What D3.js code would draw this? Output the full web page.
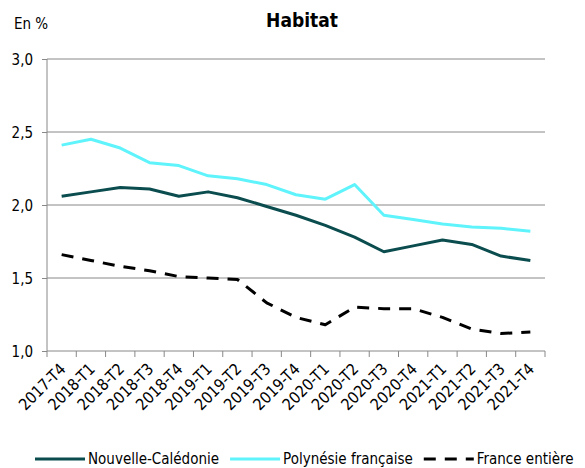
<!DOCTYPE html>
<html>
<head>
<meta charset="utf-8">
<script src="https://cdn.jsdelivr.net/npm/d3@7"></script>
<style>
  body { margin: 0; background: #fff; }
  svg text { font-family: "DejaVu Sans Condensed", "DejaVu Sans", sans-serif; font-stretch: condensed; fill: #000; }
</style>
</head>
<body>
<div id="graph"></div>
<script>
// Données
const trimestres = ["2017-T4", "2018-T1", "2018-T2", "2018-T3", "2018-T4", "2019-T1", "2019-T2", "2019-T3",
  "2019-T4", "2020-T1", "2020-T2", "2020-T3", "2020-T4", "2021-T1", "2021-T2", "2021-T3", "2021-T4"]
const nouvelleCaledonie = [2.06, 2.09, 2.12, 2.11, 2.06, 2.09, 2.05, 1.99, 1.93, 1.86, 1.78, 1.68, 1.72, 1.76, 1.73, 1.65, 1.62]
const polynesie = [2.41, 2.45, 2.39, 2.29, 2.27, 2.20, 2.18, 2.14, 2.07, 2.04, 2.14, 1.93, 1.90, 1.87, 1.85, 1.84, 1.82]
const franceEntiere = [1.66, 1.62, 1.58, 1.55, 1.51, 1.50, 1.49, 1.33, 1.23, 1.18, 1.30, 1.29, 1.29, 1.23, 1.15, 1.12, 1.13]
const yTicks = [1.0, 1.5, 2.0, 2.5, 3.0]

const series = [
  { name: "Nouvelle-Calédonie", values: nouvelleCaledonie, colour: "#0b4d4f", dash: null },
  { name: "Polynésie française", values: polynesie, colour: "#5ff3fb", dash: null },
  { name: "France entière", values: franceEntiere, colour: "#000000", dash: "12,9" }
]

const dimensions = { width: 585, height: 468 }
const margin = { left: 47, right: 40, top: 59, bottom: 117 }
const gridColour = "#888888"

const svg = d3.select("#graph")
  .append("svg")
    .attr("width", dimensions.width)
    .attr("height", dimensions.height)

// Echelles
const xScale = d3.scaleBand()
  .domain(trimestres)
  .range([margin.left, dimensions.width - margin.right])

const yScale = d3.scaleLinear()
  .domain([1, 3])
  .range([dimensions.height - margin.bottom, margin.top])

const fmt = d => d3.format(".1f")(d).replace(".", ",")

// Titre et unité
svg.append("text")
  .attr("x", 302)
  .attr("y", 27)
  .attr("text-anchor", "middle")
  .attr("font-size", 19)
  .attr("font-weight", "bold")
  .text("Habitat")

svg.append("text")
  .attr("x", 14)
  .attr("y", 29)
  .attr("font-size", 15)
  .text("En %")

// Axe Y avec grille
const yAxis = svg.append("g")
  .attr("transform", `translate(${margin.left},0)`)
  .call(d3.axisLeft(yScale)
    .tickValues(yTicks)
    .tickFormat(fmt)
    .tickSize(5)
    .tickPadding(9))

yAxis.selectAll("text").attr("font-size", 15).attr("dy", "0.35em")
yAxis.selectAll("line").attr("stroke", gridColour)
yAxis.select(".domain").attr("stroke", gridColour).attr("d", `M0,${yScale(1)}V${yScale(3)}`)

svg.append("g")
  .selectAll("line")
  .data(yTicks.filter(d => d > 1))
  .join("line")
    .attr("x1", margin.left)
    .attr("x2", dimensions.width - margin.right)
    .attr("y1", d => yScale(d))
    .attr("y2", d => yScale(d))
    .attr("stroke", gridColour)
    .attr("stroke-width", 1)

// Axe X : graduations entre les catégories
const bottom = yScale(1)
const xAxis = svg.append("g")

xAxis.append("line")
  .attr("x1", margin.left)
  .attr("x2", dimensions.width - margin.right)
  .attr("y1", bottom)
  .attr("y2", bottom)
  .attr("stroke", gridColour)

xAxis.selectAll(".tick")
  .data(trimestres.concat([null]))
  .join("line")
    .attr("class", "tick")
    .attr("x1", (d, i) => margin.left + i * xScale.step())
    .attr("x2", (d, i) => margin.left + i * xScale.step())
    .attr("y1", bottom)
    .attr("y2", bottom + 6)
    .attr("stroke", gridColour)

xAxis.selectAll("text")
  .data(trimestres)
  .join("text")
    .attr("transform", d => `translate(${xScale(d) + xScale.bandwidth() / 2 + 1},${bottom + 15}) rotate(-45)`)
    .attr("text-anchor", "end")
    .attr("dy", "0.35em")
    .attr("font-size", 16)
    .text(d => d)

// Courbes
const line = d3.line()
  .x((d, i) => xScale(trimestres[i]) + xScale.bandwidth() / 2)
  .y(d => yScale(d))

svg.append("g")
  .selectAll("path")
  .data(series)
  .join("path")
    .attr("d", d => line(d.values))
    .attr("fill", "none")
    .attr("stroke", d => d.colour)
    .attr("stroke-width", 3)
    .attr("stroke-dasharray", d => d.dash)
    .attr("stroke-linejoin", "round")

// Légende
const legend = svg.append("g")
let lx = 35
const ly = 459
series.forEach(s => {
  legend.append("line")
    .attr("x1", lx)
    .attr("x2", lx + 50)
    .attr("y1", ly)
    .attr("y2", ly)
    .attr("stroke", s.colour)
    .attr("stroke-width", 3)
    .attr("stroke-dasharray", s.dash)
  const t = legend.append("text")
    .attr("x", lx + 53)
    .attr("y", ly)
    .attr("dy", "0.35em")
    .attr("font-size", 15)
    .text(s.name)
  lx += 53 + t.node().getComputedTextLength() + 11
})
</script>
</body>
</html>
